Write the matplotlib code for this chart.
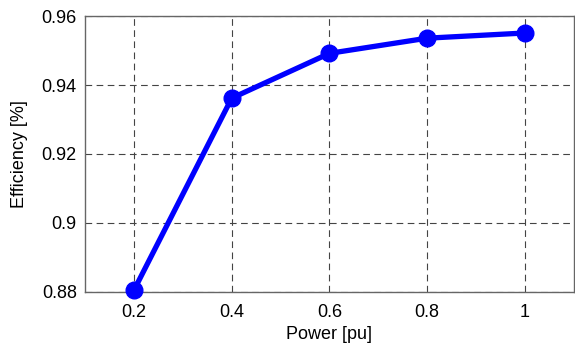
import matplotlib.pyplot as plt

plt.rcParams['font.family'] = ['Liberation Sans', 'DejaVu Sans']

# 数据
power = [0.2, 0.4, 0.6, 0.8, 1.0]
efficiency = [0.8805, 0.9362, 0.9492, 0.9536, 0.9551]
x_ticks = [0.2, 0.4, 0.6, 0.8, 1.0]
x_tick_labels = ['0.2', '0.4', '0.6', '0.8', '1']
y_ticks = [0.88, 0.90, 0.92, 0.94, 0.96]
y_tick_labels = ['0.88', '0.9', '0.92', '0.94', '0.96']

fig = plt.figure(figsize=(5.75, 3.5), dpi=100)
ax = fig.add_axes([0.148, 0.166, 0.850, 0.788])

ax.plot(power, efficiency, '-o', color='#0000ff', linewidth=3.8,
        markersize=12, markerfacecolor='#0000ff', markeredgecolor='#0000ff',
        clip_on=False, zorder=3)

ax.set_xlim(0.1, 1.1)
ax.set_ylim(0.88, 0.96)
ax.set_xticks(x_ticks)
ax.set_xticklabels(x_tick_labels)
ax.set_yticks(y_ticks)
ax.set_yticklabels(y_tick_labels)
ax.tick_params(length=0, labelsize=13)
ax.tick_params(axis='x', pad=9)
ax.tick_params(axis='y', pad=6)

ax.grid(True, linestyle=(0, (6, 4)), color='#444444', linewidth=0.8)
for s in ax.spines.values():
    s.set_color('#666666')
    s.set_linewidth(1.0)

ax.set_xlabel('Power [pu]', fontsize=13, labelpad=3)
ax.set_ylabel('Efficiency [%]', fontsize=13, labelpad=10)

fig.savefig('out.png', dpi=100)
